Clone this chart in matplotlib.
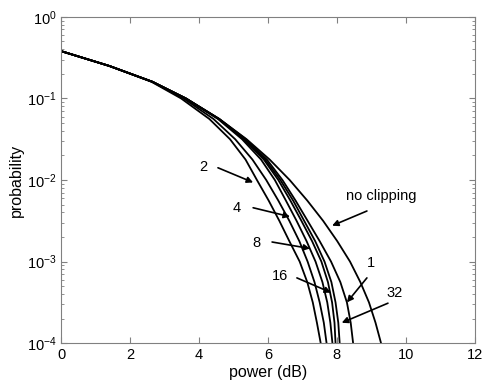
import matplotlib
matplotlib.use("Agg")
import matplotlib.pyplot as plt

plt.rcParams['font.family'] = ['Liberation Sans', 'DejaVu Sans']
plt.rcParams['mathtext.fontset'] = 'custom'
plt.rcParams['mathtext.rm'] = 'Liberation Sans'

# probability levels shared by all curves
prob_levels = [0.38, 0.25, 0.16, 0.1, 0.056, 0.0316, 0.0178, 0.01, 0.0056,
               0.00316, 0.00178, 0.001, 0.00056, 0.000316, 0.000178, 0.0001]

# power (dB) at which each curve reaches those probability levels
power_2 = [0, 1.40, 2.62, 3.48, 4.30, 4.90, 5.35, 5.68, 6.02, 6.33, 6.62, 6.92, 7.14, 7.30, 7.42, 7.53]
power_4 = [0, 1.40, 2.64, 3.55, 4.42, 5.05, 5.55, 5.95, 6.30, 6.62, 6.91, 7.15, 7.35, 7.50, 7.62, 7.70]
power_8 = [0, 1.40, 2.65, 3.60, 4.55, 5.25, 5.80, 6.20, 6.52, 6.83, 7.12, 7.38, 7.58, 7.72, 7.81, 7.87]
power_16 = [0, 1.40, 2.65, 3.62, 4.57, 5.30, 5.88, 6.30, 6.65, 6.97, 7.28, 7.55, 7.74, 7.86, 7.93, 7.96]
power_32 = [0, 1.40, 2.65, 3.62, 4.58, 5.33, 5.92, 6.36, 6.73, 7.05, 7.37, 7.64, 7.84, 7.96, 8.04, 8.08]
power_1 = [0, 1.40, 2.65, 3.62, 4.59, 5.36, 5.97, 6.42, 6.80, 7.15, 7.50, 7.83, 8.10, 8.29, 8.40, 8.47]
power_noclip = [0, 1.40, 2.65, 3.62, 4.59, 5.38, 6.05, 6.63, 7.14, 7.60, 8.01, 8.38, 8.68, 8.93, 9.12, 9.28]

curves = [power_2, power_4, power_8, power_16, power_32, power_1, power_noclip]

# annotations: label, text position, arrow tail, arrow tip (data coords)
labels = ["2", "4", "8", "16", "no clipping", "1", "32"]
label_pos = [(4.12, 10**-1.84), (5.09, 10**-2.34), (5.67, 10**-2.77), (6.35, 10**-3.18),
             (9.29, 10**-2.2), (9.0, 10**-3.02), (9.68, 10**-3.39)]
arrow_tail = [(4.55, 10**-1.85), (5.57, 10**-2.34), (6.12, 10**-2.76), (6.84, 10**-3.20),
              (8.87, 10**-2.38), (8.87, 10**-3.20), (9.48, 10**-3.51)]
arrow_tip = [(5.57, 10**-2.03), (6.64, 10**-2.45), (7.22, 10**-2.84), (7.83, 10**-3.38),
             (7.86, 10**-2.56), (8.29, 10**-3.50), (8.14, 10**-3.75)]

fig = plt.figure(figsize=(4.85, 3.83), dpi=100)
ax = fig.add_axes([0.126, 0.104, 0.853, 0.852])

for c in curves:
    ax.plot(c, prob_levels, color='black', lw=1.3)

for lab, pos, tail, tip in zip(labels, label_pos, arrow_tail, arrow_tip):
    ax.text(pos[0], pos[1], lab, fontsize=10.5, ha='center', va='center')
    ax.annotate("", xy=tip, xytext=tail,
                arrowprops=dict(arrowstyle='-|>', color='black', lw=1.2,
                                mutation_scale=9, shrinkA=0, shrinkB=0))

ax.set_yscale('log')
ax.set_xlim(0, 12)
ax.set_ylim(1e-4, 1)
ax.set_xticks([0, 2, 4, 6, 8, 10, 12])
ax.set_yticks([1e-4, 1e-3, 1e-2, 1e-1, 1])
ax.tick_params(which='both', direction='in', top=True, right=True, labelsize=10.5,
               color='#808080')
ax.tick_params(which='major', length=4)
ax.tick_params(which='minor', length=2)
for s in ax.spines.values():
    s.set_color('#808080')
    s.set_linewidth(0.8)

ax.set_xlabel("power (dB)", fontsize=11.5, labelpad=2)
ax.set_ylabel("probability", fontsize=11.5, labelpad=2)

fig.savefig("out.png", dpi=100)
